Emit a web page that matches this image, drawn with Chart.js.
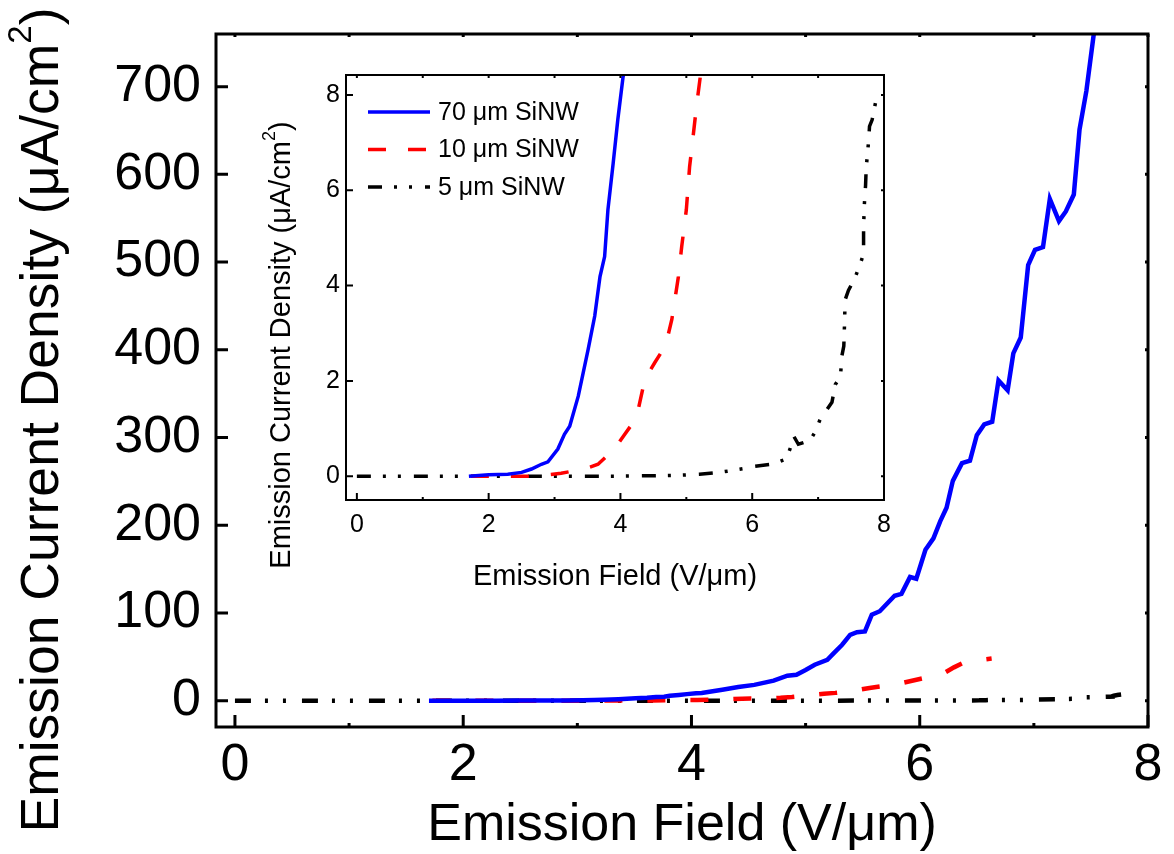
<!DOCTYPE html>
<html>
<head>
<meta charset="utf-8">
<script src="https://cdn.jsdelivr.net/npm/chart.js@4.4.0/dist/chart.umd.min.js"></script>
<style>
  body { margin: 0; background: #fff; }
  #wrap { position: relative; width: 1174px; height: 854px; }
  #main { position: absolute; left: 0; top: 0; }
  #inset { position: absolute; left: 255px; top: 55px; }
</style>
</head>
<body>
<div id="wrap">
  <canvas id="main" width="1174" height="854"></canvas>
  <canvas id="inset" width="650" height="560"></canvas>
</div>
<script>
// values: emission field (V/um) and current density (uA/cm2)
const field70 = [1.70, 2.00, 2.29, 2.50, 2.65, 2.80, 2.90, 3.05, 3.15, 3.23, 3.36, 3.51, 3.61, 3.69, 3.76, 3.81, 3.89, 3.96, 4.04,
  4.09, 4.20, 4.27, 4.41, 4.55, 4.72, 4.84, 4.92, 5.00, 5.08, 5.19, 5.245, 5.32, 5.39, 5.45, 5.52, 5.58, 5.65, 5.78, 5.84,
  5.915, 5.97, 6.05, 6.12, 6.18, 6.235, 6.29, 6.37, 6.44, 6.50, 6.565, 6.635, 6.69, 6.77, 6.82, 6.885, 6.95, 7.01, 7.08,
  7.14, 7.22, 7.28, 7.35, 7.40, 7.46, 7.53];
const current70 = [0, 0.03, 0.04, 0.08, 0.15, 0.25, 0.30, 0.57, 0.88, 1.05, 1.68, 2.66, 3.36, 4.19, 4.61, 5.59, 6.57, 7.48, 8.38,
  8.7, 11, 12.5, 15.6, 18, 22.8, 28.5, 29.6, 35, 41, 46.7, 54, 63.8, 75, 78, 79, 98, 102, 119.6, 121.8,
  141, 139, 172, 185, 204.7, 220, 250.6, 270.8, 273.5, 302.7, 315, 318, 365, 353.8, 396, 414, 496.6, 514, 517,
  572, 546.7, 557.7, 577, 651, 695, 765];

const field10 = [1.73, 2.00, 2.30, 2.60, 2.90, 3.10, 3.25, 3.45, 3.66, 3.91, 4.05, 4.19, 4.27, 4.37, 4.52, 4.62, 4.72, 4.78,
  4.88, 4.93, 5.00, 5.05, 5.08, 5.16, 5.26, 5.40, 5.56, 5.70, 5.86, 6.01, 6.15, 6.22, 6.30, 6.38, 6.50, 6.63];
const current10 = [0, 0, 0, 0, 0.03, 0.06, 0.10, 0.15, 0.25, 0.57, 0.85, 1.12, 1.40, 2.03, 2.38, 2.60, 2.94, 3.29,
  4.19, 4.82, 5.59, 6.50, 6.85, 7.83, 8.9, 11, 14.5, 17, 20.5, 25, 29, 32, 38, 43, 46, 48];

const field5 = [0, 0.5, 1.0, 1.5, 2.0, 2.5, 3.0, 3.5, 4.0, 4.5, 4.9, 5.2, 5.5, 5.7, 5.88, 6.0, 6.3, 6.52, 6.58, 6.63, 6.70,
  6.88, 6.95, 7.03, 7.21, 7.26, 7.34, 7.36, 7.39, 7.40, 7.41, 7.46, 7.56, 7.66, 7.69, 7.69, 7.70, 7.72, 7.73, 7.77, 7.78,
  7.82, 7.87];
const current5 = [0, 0, 0, 0, 0, 0, 0, 0, 0, 0.01, 0.02, 0.04, 0.08, 0.12, 0.16, 0.20, 0.25, 0.36, 0.60, 0.84, 0.67,
  0.75, 0.92, 1.19, 1.55, 1.92, 2.10, 2.52, 2.73, 3.15, 3.70, 3.90, 4.16, 4.54, 4.69, 5.17, 5.66, 6.10, 6.47, 7.09, 7.34,
  7.48, 7.83];

const seriesNames = ['70 μm SiNW', '10 μm SiNW', '5 μm SiNW'];
const xTicks = [0, 2, 4, 6, 8];
const xMinorTicks = [1, 3, 5, 7];
const mainYTicks = [0, 100, 200, 300, 400, 500, 600, 700];
const insetYTicks = [0, 2, 4, 6, 8];

const FONT = '"Liberation Sans", Arial, sans-serif';
Chart.defaults.font.family = FONT;
Chart.defaults.color = '#000';

function pts(xs, ys) {
  return xs.map((x, i) => ({ x: x, y: ys[i] }));
}

function makeDatasets(w, redDash, blackDash) {
  return [
    { label: seriesNames[0], data: pts(field70, current70), borderColor: '#0000ff', borderWidth: w },
    { label: seriesNames[1], data: pts(field10, current10), borderColor: '#ff0000', borderWidth: w, borderDash: redDash },
    { label: seriesNames[2], data: pts(field5, current5), borderColor: '#000000', borderWidth: w, borderDash: blackDash }
  ].map(d => Object.assign(d, { pointRadius: 0, fill: false, tension: 0 }));
}

// box round the plot with inward ticks
function framePlugin(o) {
  return {
    id: 'frame',
    afterDraw(chart) {
      const { ctx, chartArea: a, scales: { x, y } } = chart;
      ctx.save();
      ctx.strokeStyle = '#000';
      ctx.lineWidth = o.border;
      ctx.strokeRect(a.left, a.top, a.right - a.left, a.bottom - a.top);
      ctx.lineWidth = o.tickWidth;
      ctx.beginPath();
      xTicks.forEach(v => {
        const px = x.getPixelForValue(v);
        ctx.moveTo(px, a.bottom); ctx.lineTo(px, a.bottom - o.major);
        ctx.moveTo(px, a.top); ctx.lineTo(px, a.top + o.mirror);
      });
      xMinorTicks.forEach(v => {
        const px = x.getPixelForValue(v);
        ctx.moveTo(px, a.bottom); ctx.lineTo(px, a.bottom - o.minor);
        ctx.moveTo(px, a.top); ctx.lineTo(px, a.top + o.mirror);
      });
      o.yTicks.forEach(v => {
        const py = y.getPixelForValue(v);
        ctx.moveTo(a.left, py); ctx.lineTo(a.left + o.major, py);
        ctx.moveTo(a.right, py); ctx.lineTo(a.right - o.mirror, py);
      });
      ctx.stroke();
      ctx.restore();
    }
  };
}

// rotated y title with a raised "2"
function yTitlePlugin(cx, cy, size) {
  return {
    id: 'ytitle',
    afterDraw(chart) {
      const ctx = chart.ctx;
      const a = 'Emission Current Density (μA/cm', b = '2', c = ')';
      const big = size + 'px ' + FONT;
      const small = Math.round(size * 0.62) + 'px ' + FONT;
      ctx.save();
      ctx.translate(cx, cy);
      ctx.rotate(-Math.PI / 2);
      ctx.fillStyle = '#000';
      ctx.textBaseline = 'middle';
      ctx.font = big;
      const w1 = ctx.measureText(a).width, w3 = ctx.measureText(c).width;
      ctx.font = small;
      const w2 = ctx.measureText(b).width;
      let x0 = -(w1 + w2 + w3) / 2;
      ctx.font = big; ctx.fillText(a, x0, 0);
      ctx.font = small; ctx.fillText(b, x0 + w1, -size * 0.4);
      ctx.font = big; ctx.fillText(c, x0 + w1 + w2, 0);
      ctx.restore();
    }
  };
}

const insetLegend = {
  id: 'insetLegend',
  afterDraw(chart) {
    const ctx = chart.ctx;
    chart.data.datasets.forEach((ds, i) => {
      const y = 57 + i * 37.5;
      ctx.save();
      ctx.strokeStyle = ds.borderColor;
      ctx.lineWidth = ds.borderWidth;
      ctx.setLineDash(ds.borderDash || []);
      ctx.beginPath();
      ctx.moveTo(113, y); ctx.lineTo(175, y);
      ctx.stroke();
      ctx.setLineDash([]);
      ctx.fillStyle = '#000';
      ctx.font = '25px ' + FONT;
      ctx.textBaseline = 'middle';
      ctx.fillText(ds.label, 183, y + 1);
      ctx.restore();
    });
  }
};

function axisOpts(min, max, ticks, fontSize, pad) {
  return {
    type: 'linear', min: min, max: max,
    afterBuildTicks: s => { s.ticks = ticks.map(v => ({ value: v })); },
    grid: { display: false, drawTicks: false },
    border: { display: false },
    ticks: { padding: pad, autoSkip: false, maxRotation: 0, font: { size: fontSize }, color: '#000' }
  };
}

// fixed axis box sizes, no extra label overhang so the plot area lands where the figure has it
function fixSize(key, px) {
  return s => {
    s[key] = px;
    s.paddingTop = 0; s.paddingBottom = 0; s.paddingLeft = 0; s.paddingRight = 0;
  };
}

// main chart
const mx = axisOpts(-0.166, 8, xTicks, 52, 7);
mx.afterFit = fixSize('height', 127);
mx.title = { display: true, text: 'Emission Field (V/μm)', font: { size: 52, lineHeight: 1 }, padding: { top: 0, bottom: 2 }, color: '#000' };
const my = axisOpts(-30, 760, mainYTicks, 52, 15);
my.afterFit = fixSize('width', 216);

new Chart(document.getElementById('main'), {
  type: 'line',
  data: { datasets: makeDatasets(4.5, [18, 25], [16, 14, 3, 15, 3, 16]) },
  options: {
    responsive: false, animation: false,
    layout: { padding: { top: 34, right: 26, left: 0, bottom: 0 } },
    plugins: { legend: { display: false }, tooltip: { enabled: false } },
    scales: { x: mx, y: my }
  },
  plugins: [framePlugin({ border: 3, tickWidth: 3, major: 12, minor: 4, mirror: 3, yTicks: mainYTicks }), yTitlePlugin(43, 420, 53.5)]
});

// inset chart
const ix = axisOpts(-0.165, 8, xTicks, 25, 10);
ix.afterFit = fixSize('height', 115);
ix.title = { display: true, text: 'Emission Field (V/μm)', font: { size: 29, lineHeight: 1 }, padding: { top: 0, bottom: 23.5 }, color: '#000' };
const iy = axisOpts(-0.5, 8.42, insetYTicks, 25, 6);
iy.afterFit = fixSize('width', 91);

new Chart(document.getElementById('inset'), {
  type: 'line',
  data: { datasets: makeDatasets(3.5, [18, 22], [14, 12, 3, 12, 3, 13]) },
  options: {
    responsive: false, animation: false,
    layout: { padding: { top: 20, right: 21, left: 0, bottom: 0 } },
    plugins: { legend: { display: false }, tooltip: { enabled: false } },
    scales: { x: ix, y: iy }
  },
  plugins: [framePlugin({ border: 2, tickWidth: 2, major: 7, minor: 3, mirror: 3, yTicks: insetYTicks }), yTitlePlugin(27, 290, 29), insetLegend]
});
</script>
</body>
</html>
